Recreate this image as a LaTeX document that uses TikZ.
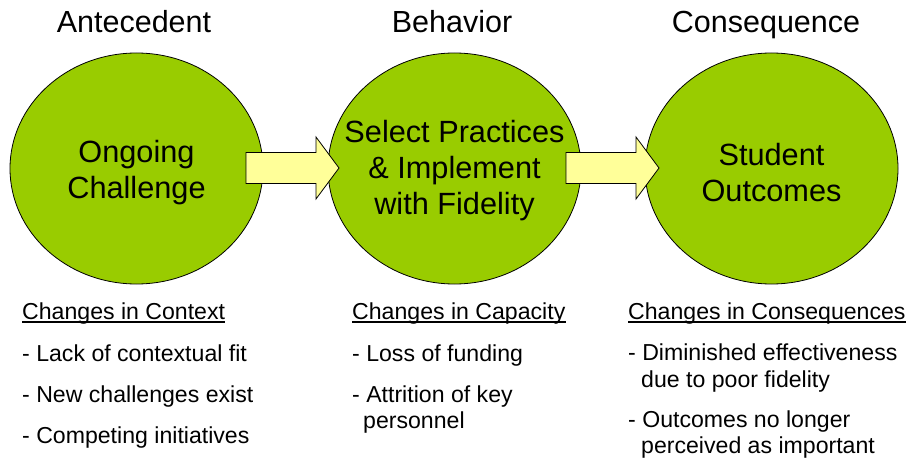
\documentclass[tikz,border=0pt]{standalone}
\usepackage{fontspec}
\setmainfont{Liberation Sans}
\usetikzlibrary{shapes.geometric}
\definecolor{circgreen}{HTML}{99CC00}
\definecolor{arrowyellow}{HTML}{FFFF99}
\begin{document}
\begin{tikzpicture}[x=1pt,y=-1pt,
  stage/.style={ellipse, draw=black, line width=0.8pt, fill=circgreen,
    minimum width=253pt, minimum height=231pt, inner sep=0pt},
  inner/.style={align=center, inner sep=0pt, font=\fontsize{30.7}{36}\selectfont},
  title/.style={anchor=base, inner sep=0pt, font=\fontsize{30.5}{36}\selectfont},
  head/.style={anchor=base west, inner sep=0pt, font=\fontsize{23.1}{27}\selectfont},
  item/.style={anchor=base west, inner sep=0pt, font=\fontsize{23.1}{27}\selectfont},
  uline/.style={line width=1.3pt},
  blockarrow/.style={draw=black, line width=0.8pt, fill=arrowyellow, line join=miter}
]
\useasboundingbox (0,0) rectangle (909,465);

% titles
\node[title] (t1) at (134,33) {Antecedent};
\node[title] (t2) at (452,33) {Behavior};
\node[title] (t3) at (766,33) {Consequence};

% circles
\node[stage] (c1) at (136.5,168.5) {};
\node[stage] (c2) at (454.5,168.5) {};
\node[stage] (c3) at (771.5,168.5) {};

% block arrows
\draw[blockarrow] (246,152.5) -- (316,152.5) -- (316,137) -- (339,168)
  -- (316,199) -- (316,183.5) -- (246,183.5) -- cycle;
\draw[blockarrow] (566,152.5) -- (636,152.5) -- (636,137) -- (659,168)
  -- (636,199) -- (636,183.5) -- (566,183.5) -- cycle;

% circle texts
\node[inner] (l1) at (136.5,172.5) {Ongoing\\Challenge};
\node[inner] (l2) at (454.5,170.5) {Select Practices\\\& Implement\\with Fidelity};
\node[inner] (l3) at (771.5,173) {Student\\Outcomes};

% column 1
\node[head] (h1) at (22,319) {Changes in Context};
\draw[uline] ([yshift=-3pt]h1.base west) -- ([yshift=-3pt]h1.base east);
\node[item] (a1) at (22,361) {- Lack of contextual fit};
\node[item] (a2) at (22,402) {- New challenges exist};
\node[item] (a3) at (22,443) {- Competing initiatives};

% column 2
\node[head] (h2) at (352,319) {Changes in Capacity};
\draw[uline] ([yshift=-3pt]h2.base west) -- ([yshift=-3pt]h2.base east);
\node[item] (b1) at (352,361) {- Loss of funding};
\node[item] (b2) at (352,402) {- Attrition of key};
\node[item] (b2b) at (363,428) {personnel};

% column 3
\node[head] (h3) at (628,319) {Changes in Consequences};
\draw[uline] ([yshift=-3pt]h3.base west) -- ([yshift=-3pt]h3.base east);
\node[item] (d1) at (628,360) {- Diminished effectiveness};
\node[item] (d1b) at (641,387) {due to poor fidelity};
\node[item] (d2) at (628,427) {- Outcomes no longer};
\node[item] (d2b) at (641,453) {perceived as important};
\end{tikzpicture}
\end{document}
